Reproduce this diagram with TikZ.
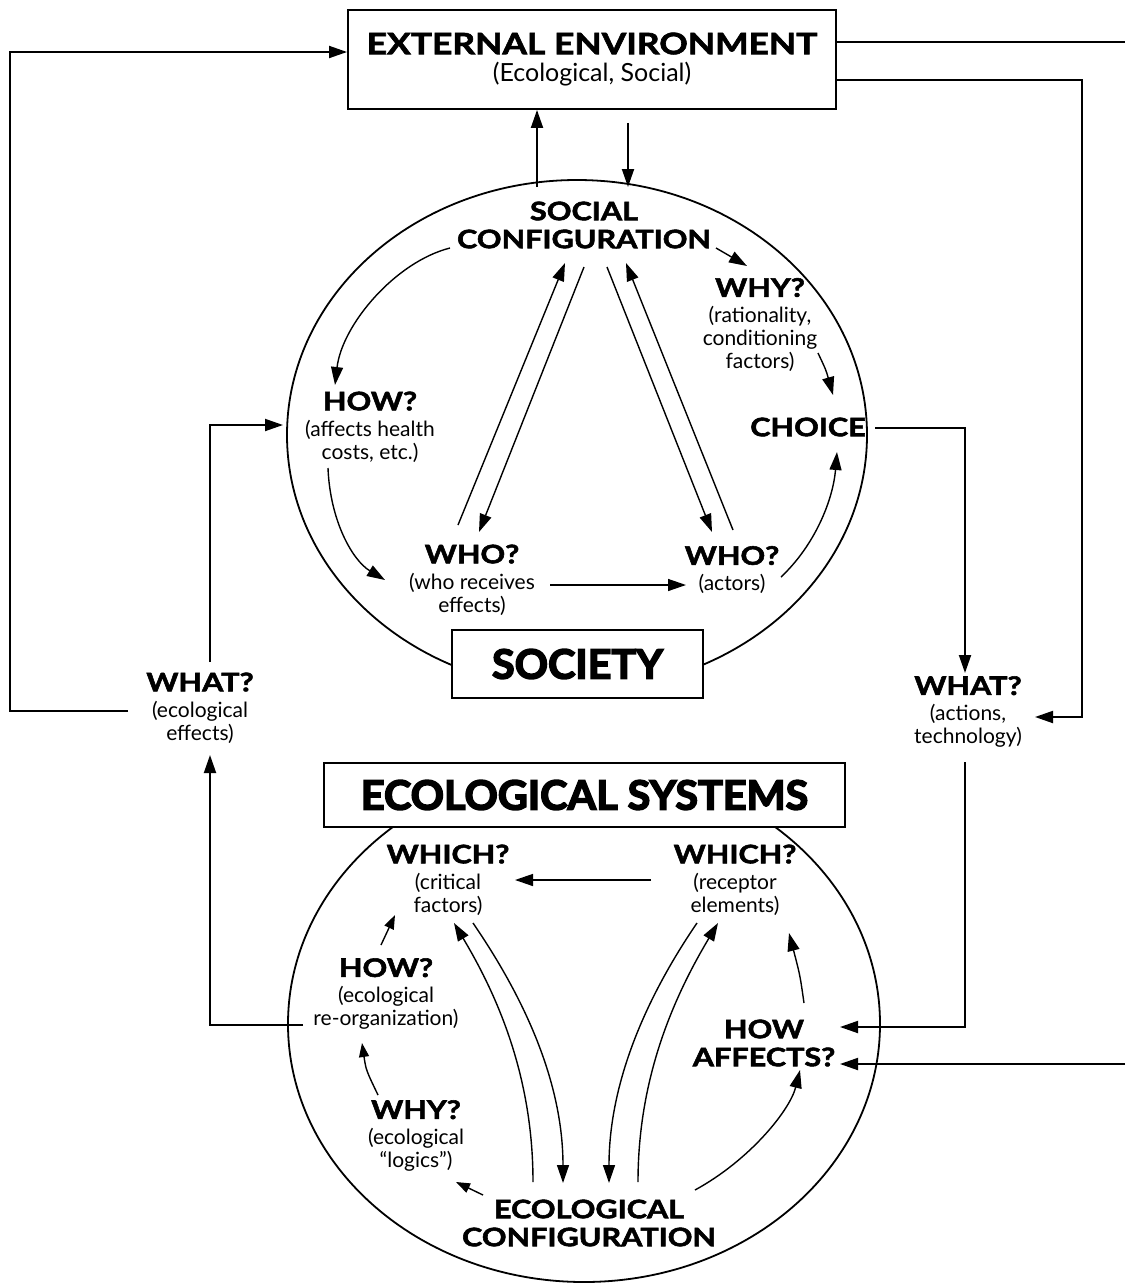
\documentclass[tikz,border=0pt]{standalone}
\usepackage{fontspec}
\setmainfont{Lato}
\newfontfamily\hdfont{Lato}[FakeStretch=1.2,BoldFeatures={FakeBold=2.2}]
\newfontfamily\hvfont{Lato}[FakeStretch=1.02,BoldFeatures={FakeBold=3.8}]
\usetikzlibrary{arrows.meta,shapes.geometric,calc}
\newcommand\sm{\fontsize{21}{23}\selectfont}
\newcommand\subt{\fontsize{25}{27}\selectfont}
\newcommand\hd{\hdfont\bfseries\fontsize{25.5}{28}\selectfont}
\newcommand\bigt{\hdfont\bfseries\fontsize{29.5}{34}\selectfont}
\newcommand\hv{\hvfont\bfseries\fontsize{40.5}{42}\selectfont}
\begin{document}
\begin{tikzpicture}[x=1pt,y=-1pt,
  tip/.style={-{Triangle[length=18pt,width=12pt]}},
  smalltip/.style={-{Triangle[length=14pt,width=10pt]}},
  loop/.style={line width=1.9pt},
  inner/.style={line width=1.4pt},
  lbl/.style={align=center,inner sep=0pt,font=\sm},
  frame/.style={draw,line width=1.9pt,fill=white,inner sep=0pt,align=center},
  ring/.style={draw,ellipse,line width=1.8pt,inner sep=0pt}]
\useasboundingbox (0,0) rectangle (1125,1283);

% the two systems
\node[ring,minimum width=580,minimum height=510] (soc) at (577,435) {};
\node[ring,minimum width=592,minimum height=516] (eco) at (584,1024) {};

% boxes
\node[frame,minimum width=488,minimum height=99] (ext) at (592,59.5)
  {\bigt EXTERNAL ENVIRONMENT\\[7pt]\subt (Ecological, Social)};
\node[frame,minimum width=251,minimum height=68] (socbox) at (577.5,664) {\hv SOCIETY};
\node[frame,minimum width=521,minimum height=64] (ecobox) at (584.5,795) {\hv ECOLOGICAL SYSTEMS};

% society labels
\node[lbl,font=\hd] (socconf) at (584,225) {SOCIAL\\CONFIGURATION};
\node[lbl] (why) at (760,325) {\hd WHY?\\[3pt]\sm (rationality,\\conditioning\\factors)};
\node[lbl,font=\hd] (choice) at (808,427) {CHOICE};
\node[lbl] (how) at (370,427) {\hd HOW?\\[3pt]\sm (affects health\\costs, etc.)};
\node[lbl] (whoA) at (472,580) {\hd WHO?\\[3pt]\sm (who receives\\effects)};
\node[lbl] (whoB) at (732,570) {\hd WHO?\\[3pt]\sm (actors)};

% what labels between the systems
\node[lbl] (whatL) at (200,708) {\hd WHAT?\\[3pt]\sm (ecological\\effects)};
\node[lbl] (whatR) at (968,712) {\hd WHAT?\\[3pt]\sm (actions,\\technology)};

% ecological labels
\node[lbl] (whichL) at (448,880) {\hd WHICH?\\[3pt]\sm (critical\\factors)};
\node[lbl] (whichR) at (735,880) {\hd WHICH?\\[3pt]\sm (receptor\\elements)};
\node[lbl] (howE) at (386,994) {\hd HOW?\\[3pt]\sm (ecological\\re-organization)};
\node[lbl] (whyE) at (416,1136) {\hd WHY?\\[3pt]\sm (ecological\\``logics'')};
\node[lbl,font=\hd] (ecoconf) at (589,1223) {ECOLOGICAL\\CONFIGURATION};
\node[lbl,font=\hd] (howaff) at (764,1043) {HOW\\AFFECTS?};

\coordinate (edgeTop) at (1125,42);
\coordinate (edgeBot) at (1125,1064);

% outer loops
\draw[loop,tip] ([shift={(-72,3)}]whatL.center) -- (10,711) -- (10,52) -- ([shift={(0,-7.5)}]ext.west);
\draw[loop] ([shift={(0,-17.5)}]ext.east) -- (edgeTop);
\draw[loop,tip] ([shift={(0,20.5)}]ext.east) -- (1082,80) -- (1082,717) -- ([shift={(67,5)}]whatR.center);
\draw[loop,tip] ([shift={(-40,-248)}]soc.center) -- ([shift={(-55,0)}]ext.south);
\draw[loop,tip] ([shift={(36,13)}]ext.south) -- ([shift={(51,-248)}]soc.center);
\draw[loop,tip] ([shift={(67,1)}]choice.center) -- (965,428) -- ([shift={(-3,-39)}]whatR.center);
\draw[loop,tip] ([shift={(-3,50)}]whatR.center) -- (965,1027) -- ([shift={(76,-16)}]howaff.center);
\draw[loop,tip] (edgeBot) -- ([shift={(76,21)}]howaff.center);
\draw[loop,tip] ([shift={(-83,31)}]howE.center) -- (210,1025) -- ([shift={(10,47)}]whatL.center);
\draw[loop,tip] ([shift={(10,-46)}]whatL.center) -- (210,425) -- ([shift={(-87,-2)}]how.center);

% society cycle
\draw[inner,tip] ([shift={(-134,23)}]socconf.center) .. controls (395,262) and (342,325) .. ([shift={(-35,-42)}]how.center);
\draw[inner,tip] ([shift={(-42,41)}]how.center) .. controls (330,520) and (352,560) .. ([shift={(-87,0)}]whoA.center);
\draw[inner,tip] ([shift={(78,5)}]whoA.center) -- ([shift={(-46,15)}]whoB.center);
\draw[inner,tip] ([shift={(49,7)}]whoB.center) .. controls (815,545) and (833,500) .. ([shift={(29,25)}]choice.center);
\draw[inner,tip] ([shift={(132,23)}]socconf.center) -- ([shift={(-13,-59)}]why.center);
\draw[inner,tip] ([shift={(58,28)}]why.center) .. controls (826,370) .. ([shift={(25,-32)}]choice.center);
\draw[inner,tip] ([shift={(-14,-55)}]whoA.center) -- ([shift={(-19,38)}]socconf.center);
\draw[inner,tip] ([shift={(0,42)}]socconf.center) -- ([shift={(7,-48)}]whoA.center);
\draw[inner,tip] ([shift={(23,42)}]socconf.center) -- ([shift={(-20,-38)}]whoB.center);
\draw[inner,tip] ([shift={(1,-40)}]whoB.center) -- ([shift={(42,38)}]socconf.center);

% ecological cycle
\draw[inner,tip] ([shift={(-84,0)}]whichR.center) -- ([shift={(67,0)}]whichL.center);
\draw[inner,smalltip] ([shift={(-5,-49)}]howE.center) -- ([shift={(-53,35)}]whichL.center);
\draw[inner,smalltip] ([shift={(-38,-41)}]whyE.center) .. controls (366,1070) .. ([shift={(-24,49)}]howE.center);
\draw[inner,smalltip] ([shift={(-106,-28)}]ecoconf.center) -- ([shift={(40,46)}]whyE.center);
\draw[inner,tip] ([shift={(106,-33)}]ecoconf.center) .. controls (750,1160) and (790,1110) .. ([shift={(36,27)}]howaff.center);
\draw[inner,tip] ([shift={(40,-40)}]howaff.center) .. controls (800,975) .. ([shift={(54,53)}]whichR.center);
\draw[inner,tip] ([shift={(-56,-41)}]ecoconf.center) .. controls (533,1080) and (500,1000) .. ([shift={(6,43)}]whichL.center);
\draw[inner,tip] ([shift={(25,43)}]whichL.center) .. controls (512,980) and (563,1070) .. ([shift={(-26,-40)}]ecoconf.center);
\draw[inner,tip] ([shift={(-38,43)}]whichR.center) .. controls (658,980) and (609,1070) .. ([shift={(20,-40)}]ecoconf.center);
\draw[inner,tip] ([shift={(49,-41)}]ecoconf.center) .. controls (638,1080) and (672,1000) .. ([shift={(-17,43)}]whichR.center);
\end{tikzpicture}
\end{document}
